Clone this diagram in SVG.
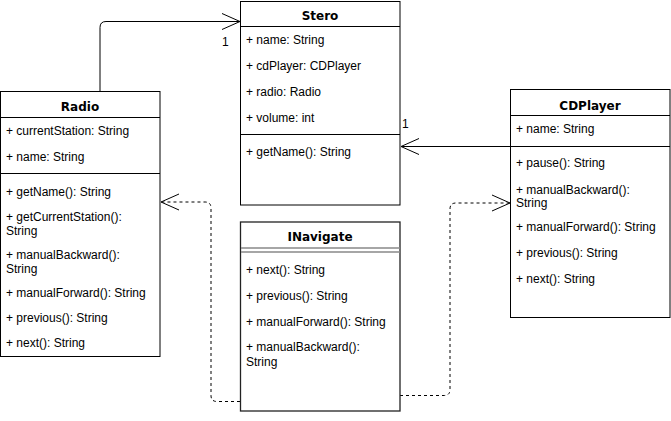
<svg xmlns="http://www.w3.org/2000/svg" width="671" height="421" viewBox="0 0 671 421">
<style>
.box{fill:#fff;stroke:#000;stroke-width:1}
.div{stroke:#000;stroke-width:1;fill:none}
.t{font-family:"Liberation Sans",Arial,sans-serif;font-size:12px;fill:#000}
.h{font-family:"DejaVu Sans",sans-serif;font-size:12px;font-weight:bold;fill:#000;text-anchor:middle}
.conn{fill:none;stroke:#000;stroke-width:1}
.dash{stroke-dasharray:3 3}
</style>
<defs>
<marker id="open" viewBox="-20 -10 22 20" markerWidth="22" markerHeight="20" refX="0" refY="0" orient="auto" markerUnits="userSpaceOnUse">
<path d="M-18,-8 L0,0 L-18,8" fill="none" stroke="#000" stroke-width="1" stroke-dasharray="none"/>
</marker>
</defs>
<rect width="671" height="421" fill="#fff"/>
<g id="connectors">
<path class="conn" d="M100,91 L100,27.5 Q100,21.5 106,21.5 L240,21.5" marker-end="url(#open)"/>
<path class="conn" d="M510,146.5 L401,146.5" marker-end="url(#open)"/>
<path class="conn dash" d="M240,401.5 L217,401.5 Q211,401.5 211,395.5 L211,208 Q211,202 205,202 L161,202" marker-end="url(#open)"/>
<path class="conn dash" d="M400,395.5 L444,395.5 Q450,395.5 450,389.5 L450,209 Q450,203 456,203 L510,203" marker-end="url(#open)"/>
<text class="t" x="222" y="46">1</text>
<text class="t" x="402" y="128">1</text>
</g>
<g id="stereo">
<rect class="box" x="240.5" y="1.5" width="159.5" height="203.5"/>
<line class="div" x1="240.5" y1="26.5" x2="400" y2="26.5"/>
<line class="div" x1="240.5" y1="134.5" x2="400" y2="134.5"/>
<text class="h" x="320" y="19.5">Stero</text>
<text class="t" x="246" y="44">+ name: String</text>
<text class="t" x="246" y="70">+ cdPlayer: CDPlayer</text>
<text class="t" x="246" y="96">+ radio: Radio</text>
<text class="t" x="246" y="122">+ volume: int</text>
<text class="t" x="246" y="156">+ getName(): String</text>
</g>
<g id="radio">
<rect class="box" x="0.5" y="91.5" width="159.5" height="265"/>
<line class="div" x1="0.5" y1="117.5" x2="160" y2="117.5"/>
<line class="div" x1="0.5" y1="173.5" x2="160" y2="173.5"/>
<text class="h" x="80" y="110.5">Radio</text>
<text class="t" x="6" y="135">+ currentStation: String</text>
<text class="t" x="6" y="161">+ name: String</text>
<text class="t" x="6" y="196">+ getName(): String</text>
<text class="t" x="6" y="221">+ getCurrentStation():</text>
<text class="t" x="6" y="235">String</text>
<text class="t" x="6" y="259">+ manualBackward():</text>
<text class="t" x="6" y="273">String</text>
<text class="t" x="6" y="297">+ manualForward(): String</text>
<text class="t" x="6" y="322">+ previous(): String</text>
<text class="t" x="6" y="347">+ next(): String</text>
</g>
<g id="cdplayer">
<rect class="box" x="510.5" y="89.5" width="159.5" height="228"/>
<line class="div" x1="510.5" y1="115.5" x2="670" y2="115.5"/>
<line class="div" x1="510.5" y1="146.5" x2="670" y2="146.5"/>
<text class="h" x="590" y="109.5">CDPlayer</text>
<text class="t" x="516" y="133">+ name: String</text>
<text class="t" x="516" y="167">+ pause(): String</text>
<text class="t" x="516" y="194">+ manualBackward():</text>
<text class="t" x="516" y="207">String</text>
<text class="t" x="516" y="231">+ manualForward(): String</text>
<text class="t" x="516" y="257">+ previous(): String</text>
<text class="t" x="516" y="283">+ next(): String</text>
</g>
<g id="inavigate">
<rect class="box" x="240.5" y="222" width="159.5" height="189" style="stroke:#222;stroke-width:1.3"/>
<line x1="241" y1="248" x2="400" y2="248" stroke="#888" stroke-width="1.5"/>
<line x1="241" y1="252" x2="400" y2="252" stroke="#888" stroke-width="1.5"/>
<text class="h" x="320" y="241">INavigate</text>
<text class="t" x="246" y="274">+ next(): String</text>
<text class="t" x="246" y="300">+ previous(): String</text>
<text class="t" x="246" y="326">+ manualForward(): String</text>
<text class="t" x="246" y="351">+ manualBackward():</text>
<text class="t" x="246" y="366">String</text>
</g>
</svg>
